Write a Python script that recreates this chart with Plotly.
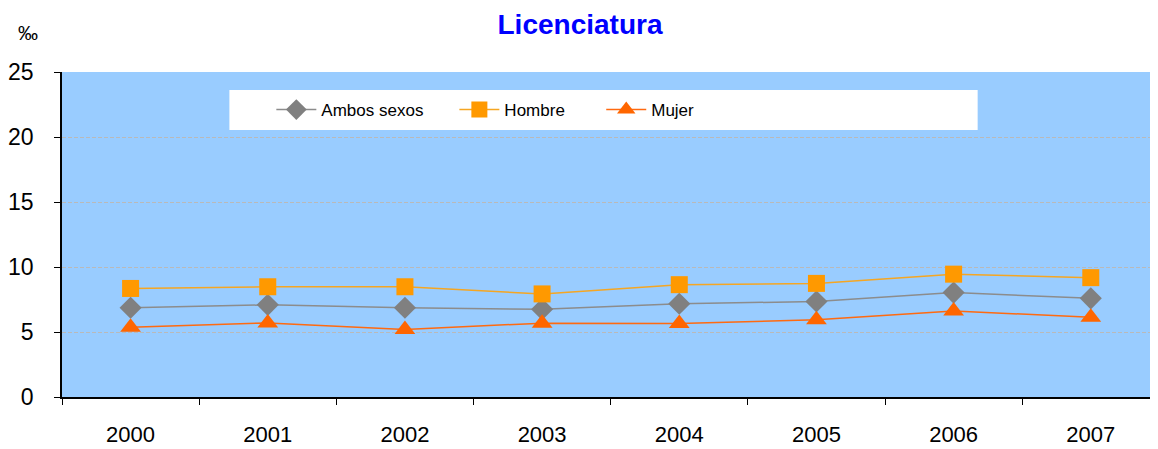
import plotly.graph_objects as go

years = ["2000", "2001", "2002", "2003", "2004", "2005", "2006", "2007"]
ambos = [6.86, 7.09, 6.86, 6.75, 7.17, 7.35, 8.03, 7.59]
hombre = [8.35, 8.48, 8.48, 7.93, 8.64, 8.74, 9.45, 9.18]
mujer = [5.37, 5.70, 5.20, 5.68, 5.65, 5.94, 6.62, 6.13]
y_ticks = [0, 5, 10, 15, 20, 25]

FONT = "Liberation Sans, Arial, sans-serif"

fig = go.Figure()
fig.add_trace(go.Scatter(
    x=years, y=ambos, name="Ambos sexos", mode="lines+markers",
    line=dict(color="#8C8C8C", width=1.5),
    marker=dict(symbol="diamond", size=17, color="#808080"),
    legend="legend"))
fig.add_trace(go.Scatter(
    x=years, y=hombre, name="Hombre", mode="lines+markers",
    line=dict(color="#F5A623", width=1.5),
    marker=dict(symbol="square", size=17, color="#FF9900"),
    legend="legend2"))
fig.add_trace(go.Scatter(
    x=years, y=mujer, name="Mujer", mode="lines+markers",
    line=dict(color="#FF6A10", width=1.5),
    marker=dict(symbol="triangle-up", size=18, color="#FF6600"),
    legend="legend3"))

leg_common = dict(orientation="h", bgcolor="rgba(0,0,0,0)", borderwidth=0,
                  font=dict(family=FONT, size=17, color="#000000"),
                  itemwidth=40,
                  yanchor="middle", y=0.883, xanchor="left")

# The page body has an 8px margin, so the figure is offset by 8px.
fig.update_layout(
    width=1150, height=441,
    margin=dict(l=50, r=0, t=64, b=52),
    paper_bgcolor="white",
    plot_bgcolor="#99CCFF",
    title=dict(text="<b>Licenciatura</b>", x=(580 - 8) / 1150, xref="container",
               xanchor="center", y=1 - 16 / 441, yref="container", yanchor="middle",
               font=dict(family=FONT, size=28, color="#0000FF")),
    showlegend=True,
    legend=dict(**{**leg_common, "x": 0.191}),
    legend2=dict(**{**leg_common, "x": 0.358}),
    legend3=dict(**{**leg_common, "x": 0.492}),
    xaxis=dict(type="category", tickson="boundaries", ticks="outside", ticklen=6,
               tickcolor="#000000", showline=True, linecolor="#000000", linewidth=1.5,
               showgrid=False, range=[-0.5, 7.49],
               tickfont=dict(family=FONT, size=22, color="#000000"),
               ticklabelstandoff=17),
    yaxis=dict(range=[0, 25], tickvals=y_ticks, ticks="outside", ticklen=6,
               tickcolor="#000000", showline=True, linecolor="#000000", linewidth=1.5,
               showgrid=True, gridcolor="#B9B9B9", griddash="4px,2px", gridwidth=1,
               zeroline=False,
               tickfont=dict(family=FONT, size=23, color="#000000"),
               ticklabelstandoff=16),
    shapes=[dict(type="rect", xref="paper", yref="paper",
                 x0=(226 - 58) / 1100, x1=(977 - 58) / 1100,
                 y0=(397 - 130) / 325, y1=(397 - 90) / 325,
                 fillcolor="white", line=dict(width=0), layer="below")],
    annotations=[dict(text="‰", x=(24 - 58) / 1100, y=(397 - 33) / 325,
                      xref="paper", yref="paper", showarrow=False,
                      xanchor="center", yanchor="middle",
                      font=dict(family=FONT, size=20, color="#000000"))],
)

fig.write_html("out.html")
